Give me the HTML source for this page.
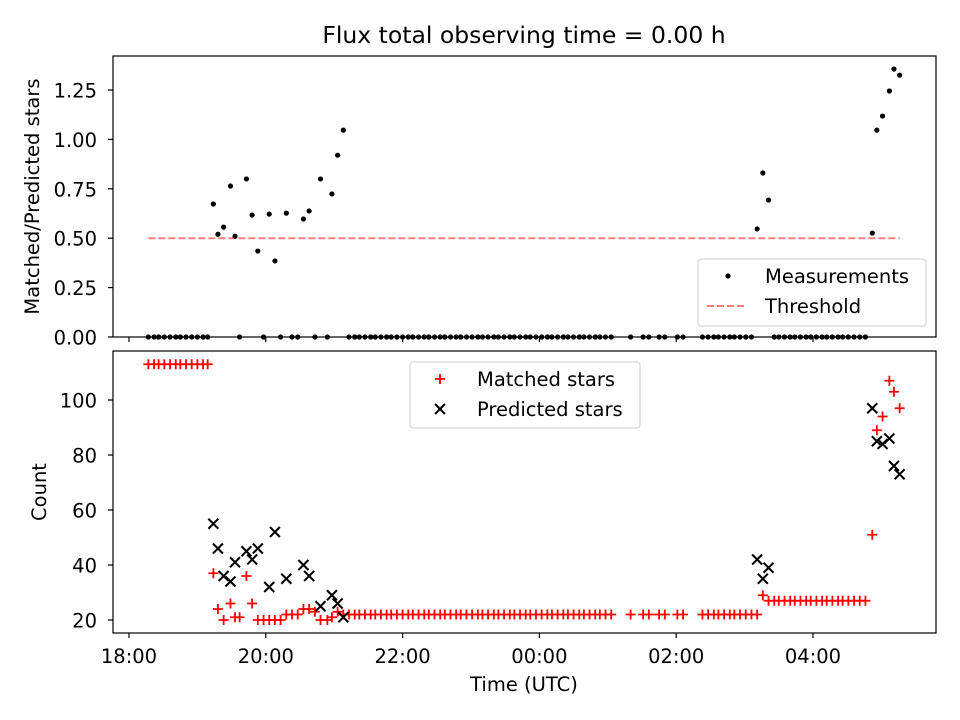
<!DOCTYPE html>
<html><head><meta charset="utf-8"><style>body{margin:0;background:#fff}svg{display:block;font-family:"DejaVu Sans","Liberation Sans",sans-serif}</style></head>
<body>
<svg id="chart" width="960" height="720" viewBox="0 0 960 720">
<rect width="960" height="720" fill="#fff"/>
<text x="524" y="43" font-size="23.5" text-anchor="middle">Flux total observing time = 0.00 h</text>
<g id="topAx"></g><g id="botAx"></g>
</svg>
<script>
// minutes since 18:00 UTC
const times=[17,22,26,31,36,41,45,50,55,60,65,69,
74,78,83,89,93,97,103,108,113,118,123,128,133,138,143,148,153,158,163,168,174,178,183,188,
193,198,202,207,212,216,221,226,230,235,
240,245,249,254,259,263,268,273,277,282,
287,291,296,301,306,310,315,320,324,329,
334,338,343,348,352,357,362,367,371,376,
381,385,390,395,399,404,409,413,418,423,
440,451,456,465,470,481,486,
503,508,513,517,522,527,531,536,541,546,551,556,561,
566,570,575,580,584,589,594,598,603,608,612,617,622,626,631,636,641,646,
652,656,661,667,671,676];
const matched=[113,113,113,113,113,113,113,113,113,113,113,113,
37,24,20,26,21,21,36,26,20,20,20,20,20,22,22,22,24,24,23,20,20,21,23,22,
22,22,22,22,22,22,22,22,22,22,
22,22,22,22,22,22,22,22,22,22,
22,22,22,22,22,22,22,22,22,22,
22,22,22,22,22,22,22,22,22,22,
22,22,22,22,22,22,22,22,22,22,
22,22,22,22,22,22,22,
22,22,22,22,22,22,22,22,22,22,22,29,27,
27,27,27,27,27,27,27,27,27,27,27,27,27,27,27,27,27,27,
51,89,94,107,103,97];
const predicted=[null,null,null,null,null,null,null,null,null,null,null,null,
55,46,36,34,41,null,45,42,46,null,32,52,null,35,null,null,40,36,null,25,null,29,26,21,
null,null,null,null,null,null,null,null,null,null,
null,null,null,null,null,null,null,null,null,null,
null,null,null,null,null,null,null,null,null,null,
null,null,null,null,null,null,null,null,null,null,
null,null,null,null,null,null,null,null,null,null,
null,null,null,null,null,null,null,
null,null,null,null,null,null,null,null,null,null,42,35,39,
null,null,null,null,null,null,null,null,null,null,null,null,null,null,null,null,null,null,
97,85,84,86,76,73];
const ratio=[0,0,0,0,0,0,0,0,0,0,0,0,
0.673,0.52,0.556,0.764,0.51,0,0.80,0.617,0.435,0,0.622,0.385,0,0.627,0,0,0.597,0.638,0,0.80,0,0.724,0.92,1.047,
0,0,0,0,0,0,0,0,0,0,
0,0,0,0,0,0,0,0,0,0,
0,0,0,0,0,0,0,0,0,0,
0,0,0,0,0,0,0,0,0,0,
0,0,0,0,0,0,0,0,0,0,
0,0,0,0,0,0,0,
0,0,0,0,0,0,0,0,0,0,0.547,0.83,0.693,
0,0,0,0,0,0,0,0,0,0,0,0,0,0,0,0,0,0,
0.526,1.047,1.118,1.245,1.356,1.325];
const threshold=0.5;
const xTickLabels=["18:00","20:00","22:00","00:00","02:00","04:00"];
const xTickMin=[0,120,240,360,480,600];
const topTicks=[0,0.25,0.5,0.75,1.0,1.25];
const botTicks=[20,40,60,80,100];

const NS="http://www.w3.org/2000/svg";
const X=m=>129+m*68.4/60;
const YT=v=>337-v*197.6;
const YB=v=>620-(v-20)*2.75;
const FS=19.5;
function mk(p,tag,at){const e=document.createElementNS(NS,tag);for(const k in at)e.setAttribute(k,at[k]);p.appendChild(e);return e;}
function axes(g,y0,y1,ticks,Y,fmt,ylabel,showX,nm){
  const f=mk(g,'rect',{x:113,y:y0,width:823,height:y1-y0,fill:'none',stroke:'#000','stroke-width':1.2});
  
  
  xTickMin.forEach((m,i)=>{
    mk(g,'line',{x1:X(m),x2:X(m),y1:y1,y2:y1+5,stroke:'#000','stroke-width':1.2});
    if(showX){const t=mk(g,'text',{x:X(m),y:y1+30,'font-size':FS,'text-anchor':'middle'});t.textContent=xTickLabels[i];
      
      }
  });
  ticks.forEach(v=>{
    mk(g,'line',{x1:108,x2:113,y1:Y(v),y2:Y(v),stroke:'#000','stroke-width':1.2});
    const t=mk(g,'text',{x:97,y:Y(v)+7.5,'font-size':FS,'text-anchor':'end'});t.textContent=fmt(v);
    
    
  });
  const yl=mk(g,'text',{x:0,y:0,'font-size':FS,'text-anchor':'middle',transform:`translate(${nm==='top'?39:46},${(y0+y1)/2}) rotate(-90)`});
  yl.textContent=ylabel;
  
  
}
const topG=document.getElementById('topAx'),botG=document.getElementById('botAx');
axes(topG,56,337,topTicks,YT,v=>v.toFixed(2),'Matched/Predicted stars',false,'top');
axes(botG,351,633,botTicks,YB,v=>String(v),'Count',true,'bottom');
const xl=mk(botG,'text',{x:524,y:691,'font-size':FS,'text-anchor':'middle'});xl.textContent='Time (UTC)';


const th=mk(topG,'line',{x1:X(times[0]),x2:X(times[times.length-1]),y1:YT(threshold),y2:YT(threshold),stroke:'#ff7f7f','stroke-width':2,'stroke-dasharray':'7,3'});


times.forEach((m,i)=>{
  if(ratio[i]==null)return;
  const c=mk(topG,'circle',{cx:X(m),cy:YT(ratio[i]),r:2.6,fill:'#000'});
  
  
});
times.forEach((m,i)=>{
  if(matched[i]==null)return;
  const x=X(m),y=YB(matched[i]);
  const p=mk(botG,'path',{d:`M${x-5},${y}H${x+5}M${x},${y-5}V${y+5}`,stroke:'#f00','stroke-width':1.8,fill:'none'});
  
  
});
times.forEach((m,i)=>{
  if(predicted[i]==null)return;
  const x=X(m),y=YB(predicted[i]);
  const p=mk(botG,'path',{d:`M${x-5},${y-5}L${x+5},${y+5}M${x-5},${y+5}L${x+5},${y-5}`,stroke:'#000','stroke-width':2,fill:'none'});
  
  
});
function legend(g,x,y,w,h,nm,items){
  const L=mk(g,'g',{});
  
  
  mk(L,'rect',{x:x,y:y,width:w,height:h,rx:3,fill:'#fff','fill-opacity':0.85,stroke:'#ccc'});
  items.forEach((it,i)=>{
    const cy=y+17+i*30;
    it.draw(L,x+30,cy);
    const t=mk(L,'text',{x:x+67,y:cy+7,'font-size':FS});t.textContent=it.label;
    
    
  });
}
legend(topG,698,259,228,67,'top-legend',[
 {label:'Measurements',draw:(g,x,y)=>mk(g,'circle',{cx:x,cy:y,r:2.6,fill:'#000'})},
 {label:'Threshold',draw:(g,x,y)=>mk(g,'line',{x1:x-21,x2:x+19,y1:y,y2:y,stroke:'#ff7f7f','stroke-width':2,'stroke-dasharray':'7,3'})}
]);
legend(botG,410,362,230,66,'bottom-legend',[
 {label:'Matched stars',draw:(g,x,y)=>mk(g,'path',{d:`M${x-5},${y}H${x+5}M${x},${y-5}V${y+5}`,stroke:'#f00','stroke-width':1.8})},
 {label:'Predicted stars',draw:(g,x,y)=>mk(g,'path',{d:`M${x-5},${y-5}L${x+5},${y+5}M${x-5},${y+5}L${x+5},${y-5}`,stroke:'#000','stroke-width':2})}
]);
</script>
</body></html>
